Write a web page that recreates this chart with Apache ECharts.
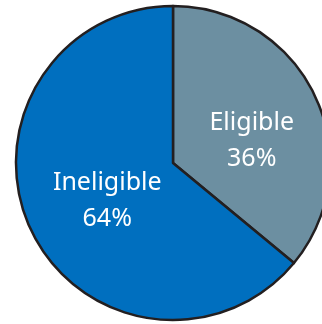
<!DOCTYPE html>
<html>
<head>
<meta charset="utf-8">
<script src="https://cdn.jsdelivr.net/npm/echarts@6/dist/echarts.min.js"></script>
<style>
    html, body {margin:0; padding:0; background:#fff;}
    #main {width:322px; height:324px;}
</style>
</head>
<body>
<div id="main"></div>
<script>
//数据
var categories = ['Eligible', 'Ineligible'];
var shares = [36, 64];
var sliceColors = ['#6c8fa1', '#006fbf'];
var labelOffsets = [[5, 13], [8, 3]];

function drawPie(domId) {
    var pieData = [];
    for (var i = 0; i < categories.length; i++) {
        pieData.push({
            name: categories[i],
            value: shares[i],
            itemStyle: {color: sliceColors[i]},
            label: {offset: labelOffsets[i]}
        });
    }

    var option = {
        animation: false,
        series: [
            {
                type: 'pie',
                center: [173, 163],
                radius: 157,
                startAngle: 90,
                clockwise: true,
                itemStyle: {
                    borderColor: '#231f20',
                    borderWidth: 2.5
                },
                label: {
                    show: true,
                    position: 'inside',
                    formatter: '{b}\n{c}%',
                    color: '#fff',
                    fontFamily: 'Noto Sans',
                    fontSize: 25,
                    lineHeight: 36
                },
                labelLine: {show: false},
                emphasis: {disabled: true},
                data: pieData
            }
        ]
    };

    var chart = echarts.init(document.getElementById(domId));
    chart.setOption(option);
}

drawPie('main');
</script>
</body>
</html>
